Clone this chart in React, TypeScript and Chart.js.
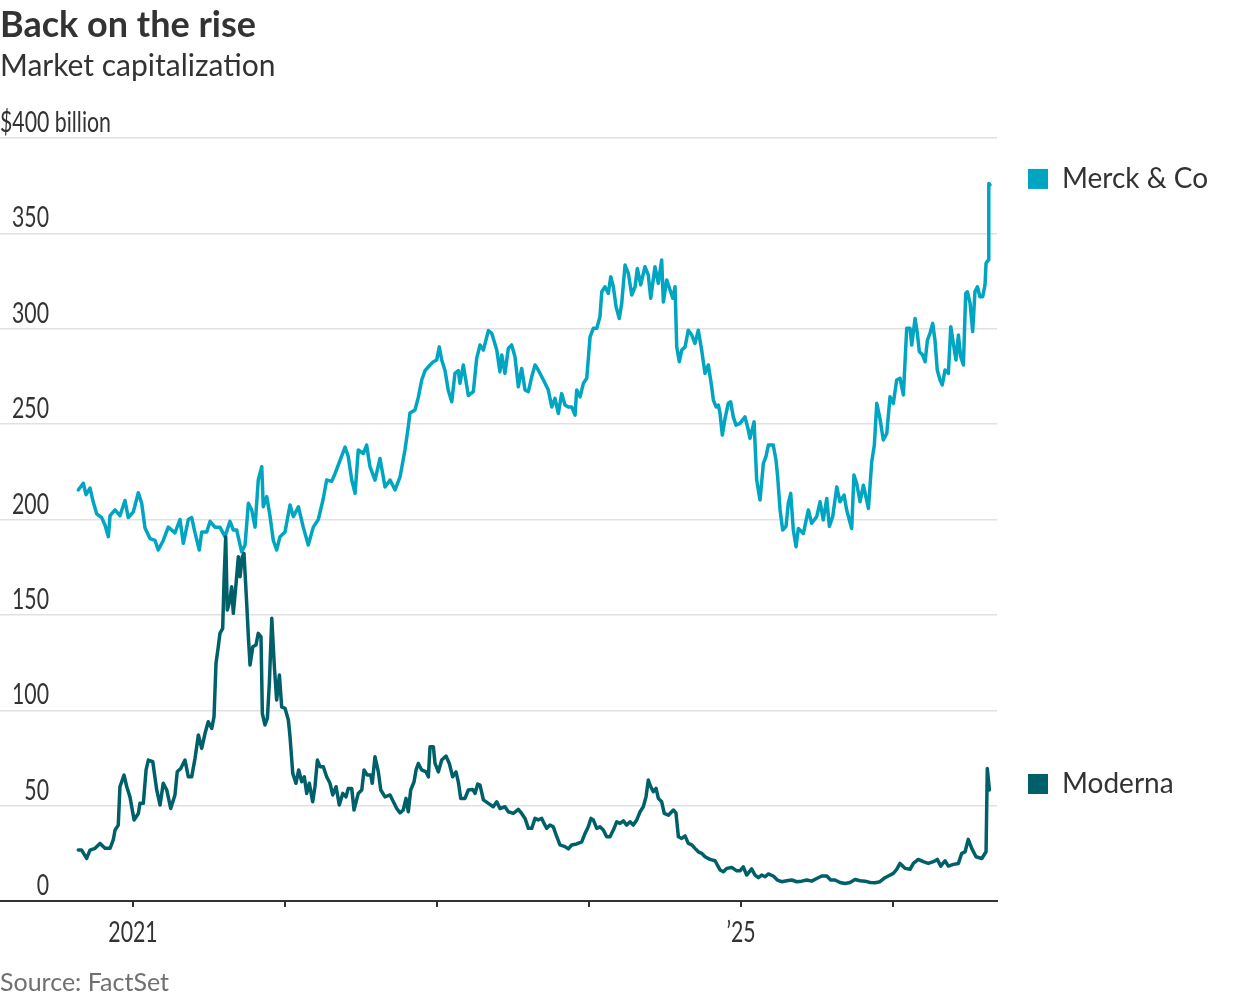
import React, { useEffect, useRef } from 'react';
import { Chart, registerables } from 'chart.js';

Chart.register(...registerables);

const TITLE = 'Back on the rise';
const SUBTITLE = 'Market capitalization';
const SOURCE = 'Source: FactSet';
const Y_UNIT_LABEL = '$400 billion';

const X_MIN = 2020.125;
const X_MAX = 2026.684;
const Y_MIN = 0;
const Y_MAX = 400;
const Y_STEP = 50;
const X_LABELS: Record<number, string> = { 2021: '2021', 2025: '\u201925' };

const seriesNames = ['Merck & Co', 'Moderna'];
const seriesColors = ['#00a5c1', '#00606a'];

// [decimal year, market cap in $ billion]
const merckSeries: [number, number][] = [
  [2020.640,215.5],[2020.673,219],[2020.691,213],[2020.717,216.5],[2020.739,209],[2020.761,203],[2020.794,201],[2020.816,197],[2020.838,191],[2020.849,202],[2020.882,205],[2020.914,202],[2020.947,210],[2020.969,201],[2021.002,204],[2021.035,214],[2021.057,208.5],[2021.079,195.5],[2021.112,190],[2021.145,189],[2021.166,184],[2021.199,189],[2021.232,196],[2021.276,193],[2021.309,200],[2021.331,187.5],[2021.364,200],[2021.386,201],[2021.408,193],[2021.436,184],[2021.452,193.5],[2021.485,193.5],[2021.507,199],[2021.539,196],[2021.572,196],[2021.605,191],[2021.638,199],[2021.660,194.5],[2021.682,194.5],[2021.715,183],[2021.737,186.6],[2021.759,208.5],[2021.781,205],[2021.803,196],[2021.824,220.7],[2021.847,227.7],[2021.857,206.7],[2021.880,212],[2021.901,202],[2021.923,189],[2021.945,184],[2021.967,191],[2022.000,193.5],[2022.033,207.6],[2022.055,201.5],[2022.088,206.7],[2022.120,196],[2022.153,186.6],[2022.186,196],[2022.219,200],[2022.252,211],[2022.274,220.7],[2022.307,220],[2022.329,224],[2022.362,231],[2022.395,238],[2022.416,233],[2022.439,220.7],[2022.461,213.7],[2022.482,236.4],[2022.515,234.6],[2022.537,239],[2022.559,227.7],[2022.592,220.7],[2022.625,232],[2022.658,217],[2022.691,220.7],[2022.724,215.5],[2022.757,222.4],[2022.789,236.4],[2022.811,248.6],[2022.822,255.8],[2022.855,257.4],[2022.877,264],[2022.899,273],[2022.921,278],[2022.954,281],[2022.976,282.7],[2022.998,283.6],[2023.015,290.5],[2023.031,283.6],[2023.053,278],[2023.074,267.7],[2023.097,261.7],[2023.118,276.6],[2023.140,278],[2023.151,271.4],[2023.173,281],[2023.206,265],[2023.239,267],[2023.261,284.5],[2023.283,291.5],[2023.305,288.8],[2023.338,299],[2023.360,297.6],[2023.393,288.8],[2023.414,277.5],[2023.426,286.2],[2023.447,276.6],[2023.469,289.7],[2023.491,291.5],[2023.513,285.3],[2023.535,269.6],[2023.557,279.2],[2023.579,267.9],[2023.601,267],[2023.623,274.8],[2023.645,281],[2023.666,278.4],[2023.689,274.8],[2023.711,271.4],[2023.732,267.9],[2023.755,259],[2023.776,263.5],[2023.798,255.6],[2023.820,266],[2023.842,260],[2023.864,259],[2023.886,259],[2023.908,254.7],[2023.919,267.9],[2023.941,264.3],[2023.963,271.4],[2023.985,274],[2024.007,295.8],[2024.028,300.2],[2024.051,300.2],[2024.072,306.3],[2024.084,319.4],[2024.105,322],[2024.127,318.5],[2024.143,327.3],[2024.160,322],[2024.178,311.5],[2024.199,305.4],[2024.215,313.3],[2024.237,333.4],[2024.259,329],[2024.281,317.7],[2024.303,322],[2024.318,331.6],[2024.340,323],[2024.368,332.5],[2024.390,328.2],[2024.406,316],[2024.434,332.5],[2024.456,323.8],[2024.478,336],[2024.489,314],[2024.511,325.6],[2024.533,320.3],[2024.551,316],[2024.566,322],[2024.577,290.5],[2024.594,282.7],[2024.610,288.8],[2024.632,290.5],[2024.653,299.2],[2024.676,296.7],[2024.697,292.3],[2024.719,299.2],[2024.741,288.8],[2024.763,276.6],[2024.785,281],[2024.807,269.6],[2024.818,262.6],[2024.836,259],[2024.851,260],[2024.862,255.6],[2024.877,244.3],[2024.895,253],[2024.916,260.9],[2024.932,261.7],[2024.949,253.8],[2024.967,249.5],[2024.993,250.4],[2025.026,253.8],[2025.048,246.9],[2025.059,242.5],[2025.086,251.2],[2025.103,220.7],[2025.125,210.2],[2025.147,229.4],[2025.164,232.9],[2025.180,239],[2025.212,239],[2025.230,231.2],[2025.241,222.4],[2025.257,205],[2025.274,194.5],[2025.296,196.4],[2025.311,208.4],[2025.327,213.7],[2025.344,194.5],[2025.362,185.7],[2025.377,195.3],[2025.410,192.7],[2025.443,205],[2025.465,198],[2025.498,201.5],[2025.520,209.3],[2025.541,199.7],[2025.564,211],[2025.581,196.4],[2025.603,201.5],[2025.630,217.1],[2025.651,209.3],[2025.678,212.8],[2025.695,205],[2025.728,195.3],[2025.743,223.3],[2025.761,218.9],[2025.783,209.3],[2025.805,218],[2025.838,205.8],[2025.860,230.3],[2025.877,239],[2025.893,260.9],[2025.914,253],[2025.936,241.7],[2025.959,245.1],[2025.980,264.3],[2026.002,260.9],[2026.024,273.1],[2026.046,274],[2026.068,265.3],[2026.090,300.2],[2026.112,300.2],[2026.123,291.5],[2026.145,305.4],[2026.160,297.6],[2026.173,288],[2026.195,286.2],[2026.211,282.7],[2026.226,294],[2026.243,297.6],[2026.261,302.8],[2026.276,294],[2026.291,278.4],[2026.309,273.1],[2026.324,270.5],[2026.342,278.4],[2026.364,276.6],[2026.380,301],[2026.397,292.3],[2026.414,283.6],[2026.430,296.7],[2026.445,285.3],[2026.463,281],[2026.478,318.5],[2026.489,319.4],[2026.507,313.3],[2026.524,298.5],[2026.539,319.4],[2026.555,322],[2026.572,316.8],[2026.590,316.8],[2026.605,323],[2026.612,334.3],[2026.627,336],[2026.630,376.2],[2026.638,375.4]
];

const modernaSeries: [number, number][] = [
  [2020.640,26.7],[2020.662,26.7],[2020.695,22.3],[2020.717,26.7],[2020.750,27.6],[2020.783,30.2],[2020.816,27.6],[2020.849,27.6],[2020.870,32],[2020.882,37.2],[2020.903,39.8],[2020.914,59.9],[2020.941,66],[2020.959,59.9],[2020.980,54.6],[2021.007,42.5],[2021.035,45.9],[2021.046,51.2],[2021.068,51.2],[2021.086,68.7],[2021.101,73.9],[2021.130,73],[2021.156,58.2],[2021.178,50.3],[2021.199,61.7],[2021.222,58.2],[2021.248,48.5],[2021.276,55.6],[2021.291,67.7],[2021.314,69.5],[2021.342,73.9],[2021.364,65.1],[2021.386,65.1],[2021.408,74.8],[2021.430,87],[2021.452,80],[2021.474,87.9],[2021.495,94],[2021.518,90.5],[2021.533,96.6],[2021.546,124.6],[2021.561,133.3],[2021.572,140.3],[2021.590,142.9],[2021.599,168.3],[2021.610,191],[2021.620,152.6],[2021.638,157.8],[2021.649,164.8],[2021.660,150.8],[2021.678,166.5],[2021.693,180.5],[2021.704,170],[2021.719,180.5],[2021.730,182.2],[2021.748,156],[2021.759,138.5],[2021.770,123.7],[2021.788,133.3],[2021.809,134.2],[2021.824,140.3],[2021.842,138.5],[2021.851,98.3],[2021.868,92.3],[2021.884,95.8],[2021.897,114.1],[2021.913,148.2],[2021.930,122.8],[2021.945,105.4],[2021.963,118.5],[2021.978,101.8],[2022.000,101],[2022.022,94.9],[2022.033,86.1],[2022.051,66.9],[2022.072,61.7],[2022.090,68.7],[2022.110,62.5],[2022.127,65.1],[2022.143,56.4],[2022.160,61.7],[2022.182,52],[2022.197,59.9],[2022.213,73.9],[2022.230,70.4],[2022.252,70.4],[2022.274,65.1],[2022.296,61.7],[2022.314,55.6],[2022.336,59.9],[2022.357,50.3],[2022.380,56.4],[2022.401,54.6],[2022.416,59],[2022.439,59],[2022.454,47.7],[2022.482,56.4],[2022.505,58.2],[2022.520,68.7],[2022.541,66],[2022.564,66],[2022.574,61.7],[2022.592,75.6],[2022.614,67.7],[2022.630,58.2],[2022.658,54.6],[2022.691,55.6],[2022.713,52],[2022.735,48.5],[2022.757,46.2],[2022.778,47.7],[2022.796,53.8],[2022.811,46.8],[2022.827,58.2],[2022.849,62.5],[2022.862,68.7],[2022.877,72.1],[2022.899,68.7],[2022.928,67.7],[2022.943,65.1],[2022.954,80.8],[2022.976,80.8],[2022.987,72.1],[2023.009,67.7],[2023.031,73.9],[2023.059,76],[2023.081,72.1],[2023.103,65.1],[2023.125,67.7],[2023.140,62.5],[2023.156,53.8],[2023.184,53.8],[2023.206,58.2],[2023.235,58.5],[2023.250,56.4],[2023.268,61.3],[2023.283,60.8],[2023.305,53],[2023.338,51.2],[2023.370,49.4],[2023.393,52],[2023.414,48.5],[2023.447,49.4],[2023.469,46.8],[2023.502,45.9],[2023.535,48],[2023.557,45.9],[2023.579,43.3],[2023.601,38.1],[2023.623,38.1],[2023.645,43.3],[2023.666,42.5],[2023.689,43.3],[2023.704,40.7],[2023.722,38.1],[2023.743,39.8],[2023.765,38.9],[2023.788,33.7],[2023.809,29.4],[2023.842,28.5],[2023.864,27.3],[2023.886,29.4],[2023.919,29.9],[2023.952,31],[2023.974,35.4],[2023.995,38.9],[2024.013,43.3],[2024.028,42.5],[2024.051,38.1],[2024.072,38.9],[2024.094,37.2],[2024.116,33.7],[2024.138,33.7],[2024.160,37.2],[2024.182,41.5],[2024.204,40.7],[2024.226,42],[2024.248,39.8],[2024.270,41.5],[2024.291,39.8],[2024.314,42.5],[2024.336,46.8],[2024.357,49.4],[2024.375,54.6],[2024.390,63.4],[2024.406,59.9],[2024.423,57.3],[2024.441,59],[2024.456,53.8],[2024.478,52],[2024.495,45.9],[2024.522,45],[2024.555,47.7],[2024.572,46.2],[2024.588,33.7],[2024.610,32.8],[2024.632,34.1],[2024.653,30.2],[2024.676,29.4],[2024.697,27.6],[2024.719,25.8],[2024.741,25],[2024.763,23.2],[2024.796,21.8],[2024.829,21.1],[2024.862,16.3],[2024.884,15.3],[2024.906,17.1],[2024.939,17.6],[2024.972,15.8],[2024.993,15.8],[2025.015,17.9],[2025.037,13.6],[2025.070,16.8],[2025.092,13.6],[2025.114,12.2],[2025.136,13.6],[2025.158,12.7],[2025.180,14.2],[2025.212,13.1],[2025.239,11],[2025.268,10.1],[2025.301,10.6],[2025.334,11],[2025.366,10.1],[2025.399,10.4],[2025.432,11],[2025.465,10.4],[2025.498,11.8],[2025.531,13.1],[2025.564,13.1],[2025.590,11],[2025.618,11],[2025.651,9.7],[2025.684,9.2],[2025.717,9.7],[2025.750,11.3],[2025.783,10.6],[2025.816,10.4],[2025.849,9.7],[2025.882,9.6],[2025.914,10.1],[2025.947,12.2],[2025.969,13.1],[2026.002,14.5],[2026.024,16.6],[2026.046,19.7],[2026.057,18.9],[2026.079,17.1],[2026.112,16.6],[2026.134,19.7],[2026.166,21.8],[2026.199,20.6],[2026.232,19.7],[2026.265,20.6],[2026.291,21.8],[2026.314,18.3],[2026.342,21.1],[2026.364,18.3],[2026.397,19.2],[2026.430,19.7],[2026.452,25],[2026.474,25.8],[2026.495,32.3],[2026.518,27.6],[2026.546,23.2],[2026.584,22.3],[2026.612,25.8],[2026.620,69.5],[2026.634,58.2]
];

const TEXT_FONT = "Lato, 'Open Sans', sans-serif";
const LABEL_SIZE = 28;
const LABEL_SQUEEZE = 0.76;

function squeezedText(ctx: CanvasRenderingContext2D, text: string, x: number, y: number, align: CanvasTextAlign) {
  ctx.save();
  ctx.translate(x, y);
  ctx.scale(LABEL_SQUEEZE, 1);
  ctx.textAlign = align;
  ctx.textBaseline = 'alphabetic';
  ctx.fillText(text, 0, 0);
  ctx.restore();
}

const overlayPlugin = {
  id: 'overlay',
  afterDraw(chart: any) {
    const ctx = chart.ctx as CanvasRenderingContext2D;
    const y = chart.scales.y;
    const x = chart.scales.x;
    ctx.save();
    ctx.fillStyle = '#333';
    ctx.font = `${LABEL_SIZE}px ${TEXT_FONT}`;
    // y tick labels, sitting above their gridlines
    y.ticks.forEach((t: any) => {
      const py = y.getPixelForValue(t.value) - 6;
      if (t.value === Y_MAX) squeezedText(ctx, Y_UNIT_LABEL, 0, py, 'left');
      else squeezedText(ctx, String(t.value), 49, py, 'right');
    });
    // x tick labels
    x.ticks.forEach((t: any) => {
      const label = X_LABELS[Math.round(t.value)];
      if (label) squeezedText(ctx, label, x.getPixelForValue(t.value), chart.chartArea.bottom + 41, 'center');
    });
    // end-of-line legend
    chart.data.datasets.forEach((ds: any) => {
      const last = ds.data[ds.data.length - 1];
      const cy = y.getPixelForValue(last.y) - 6;
      ctx.fillStyle = ds.borderColor;
      ctx.fillRect(1028, cy - 10, 20, 20);
      ctx.fillStyle = '#333';
      ctx.font = `28px ${TEXT_FONT}`;
      ctx.textAlign = 'left';
      ctx.textBaseline = 'alphabetic';
      ctx.fillText(ds.label, 1062, cy + 9);
    });
    ctx.restore();
  },
};

export default function App() {
  const ref = useRef<HTMLCanvasElement>(null);

  useEffect(() => {
    const toPoints = (s: [number, number][]) => s.map(([px, py]) => ({ x: px, y: py }));
    const chart = new Chart(ref.current as HTMLCanvasElement, {
      type: 'line',
      data: {
        datasets: [
          {
            label: seriesNames[1],
            data: toPoints(modernaSeries),
            borderColor: seriesColors[1],
            backgroundColor: seriesColors[1],
          },
          {
            label: seriesNames[0],
            data: toPoints(merckSeries),
            borderColor: seriesColors[0],
            backgroundColor: seriesColors[0],
          },
        ],
      },
      options: {
        responsive: false,
        animation: false,
        devicePixelRatio: 1,
        parsing: false,
        normalized: true,
        layout: { padding: { left: 0, right: 243, top: 138, bottom: 52 } },
        plugins: { legend: { display: false }, tooltip: { enabled: false }, title: { display: false } },
        elements: {
          point: { radius: 0, hoverRadius: 0 },
          line: { tension: 0, borderWidth: 3.5, borderJoinStyle: 'round', borderCapStyle: 'round' },
        },
        scales: {
          x: {
            type: 'linear',
            min: X_MIN,
            max: X_MAX,
            afterFit: (s: any) => { s.height = 47; },
            ticks: {
              display: false,
              stepSize: 1,
              includeBounds: false,
              autoSkip: false,
              maxRotation: 0,
            },
            grid: { drawOnChartArea: false, drawTicks: true, tickLength: 6, color: '#333', lineWidth: 2 },
            border: { display: true, color: '#333', width: 2 },
          },
          y: {
            type: 'linear',
            min: Y_MIN,
            max: Y_MAX,
            afterFit: (s: any) => { s.width = 0; },
            ticks: { display: false, stepSize: Y_STEP },
            grid: { color: '#e1e1e1', lineWidth: 1.5, drawTicks: false },
            border: { display: false },
          },
        },
      } as any,
      plugins: [overlayPlugin],
    });
    return () => chart.destroy();
  }, []);

  const textBase: React.CSSProperties = {
    position: 'absolute',
    left: 0,
    whiteSpace: 'nowrap',
    fontFamily: TEXT_FONT,
    lineHeight: 1,
    color: '#333',
  };

  return (
    <div style={{ position: 'absolute', left: 0, top: 0, width: 1240, height: 1000, background: '#fff', overflow: 'hidden' }}>
      <canvas ref={ref} width={1240} height={1000} style={{ position: 'absolute', left: 0, top: 0, width: 1240, height: 1000 }} />
      <div style={{ ...textBase, top: 5, fontSize: 36, fontWeight: 700 }}>{TITLE}</div>
      <div style={{ ...textBase, top: 49, fontSize: 30, fontWeight: 400 }}>{SUBTITLE}</div>
      <div style={{ ...textBase, top: 969, fontSize: 25, fontWeight: 400, color: '#707070' }}>{SOURCE}</div>
    </div>
  );
}
